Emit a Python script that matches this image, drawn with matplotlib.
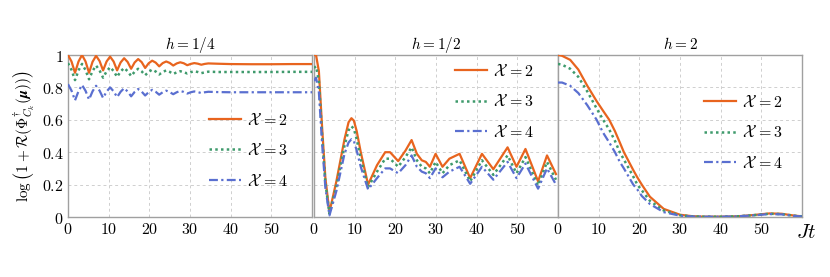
import matplotlib
matplotlib.use("Agg")
import matplotlib.pyplot as plt

plt.rcParams['mathtext.fontset'] = 'cm'
plt.rcParams['font.family'] = 'serif'
plt.rcParams['font.serif'] = ['DejaVu Serif']

# panel h = 1/4
t1 = [0, 0.8625, 1.725, 2.5875, 3.45, 4.3125, 5.175, 6.0375, 6.9, 7.7625, 8.625, 9.4875,
      10.35, 11.2125, 12.075, 12.9375, 13.8, 14.6625, 15.525, 16.3875, 17.25, 18.1125,
      18.975, 19.8375, 20.7, 21.5625, 22.425, 23.2875, 24.15, 25.0125, 25.875, 26.7375,
      27.6, 28.4625, 29.325, 30.1875, 31.05, 31.9125, 32.775, 33.6375, 34.5,
      37, 40, 45, 50, 55, 60]
orange1 = [1.0, 0.96, 0.89, 0.96, 1.0, 0.96, 0.89, 0.958, 0.995, 0.963, 0.905, 0.96,
           0.99, 0.96, 0.905, 0.954, 0.98, 0.957, 0.915, 0.954, 0.975, 0.956,
           0.92, 0.949, 0.965, 0.953, 0.93, 0.95, 0.96, 0.951, 0.935, 0.948,
           0.955, 0.949, 0.937, 0.945, 0.95, 0.9465, 0.94, 0.945, 0.948,
           0.946, 0.944, 0.943, 0.943, 0.944, 0.944]
green1 = [0.95, 0.908, 0.845, 0.905, 0.945, 0.907, 0.85, 0.901, 0.935, 0.905, 0.86, 0.899,
          0.925, 0.901, 0.865, 0.898, 0.92, 0.90, 0.87, 0.897, 0.915, 0.899,
          0.875, 0.896, 0.91, 0.898, 0.88, 0.895, 0.905, 0.896, 0.883, 0.893,
          0.90, 0.894, 0.886, 0.894, 0.90, 0.895, 0.888, 0.893, 0.897,
          0.895, 0.895, 0.895, 0.895, 0.896, 0.896]
blue1 = [0.82, 0.78, 0.72, 0.777, 0.815, 0.779, 0.725, 0.776, 0.81, 0.78, 0.735, 0.774,
         0.80, 0.776, 0.74, 0.773, 0.795, 0.775, 0.745, 0.772, 0.79, 0.774,
         0.75, 0.771, 0.785, 0.773, 0.755, 0.77, 0.78, 0.771, 0.758, 0.77,
         0.778, 0.772, 0.762, 0.77, 0.775, 0.771, 0.765, 0.77, 0.773,
         0.771, 0.77, 0.77, 0.77, 0.77, 0.77]

# panel h = 1/2
t2 = [0, 0.5, 1.2, 2.0, 2.8, 3.8, 5.5, 7.5, 8.5, 9.2, 9.8, 10.5, 11.5, 13.3, 15.5, 17.5,
      18.7, 20.7, 22.5, 24, 25.3, 26.5, 27.5, 28.5, 29.9, 31.6, 33.3, 35.8, 38.4, 41.3,
      44.1, 47.6, 49.8, 52, 55.1, 57.3, 59.5]
orange2 = [1.0, 1.0, 0.90, 0.55, 0.24, 0.03, 0.22, 0.48, 0.585, 0.61, 0.595, 0.53, 0.40,
           0.20, 0.32, 0.40, 0.40, 0.345, 0.41, 0.475, 0.39, 0.35, 0.34, 0.31, 0.39,
           0.31, 0.36, 0.39, 0.24, 0.39, 0.295, 0.43, 0.31, 0.42, 0.22, 0.38, 0.265]
green2 = [0.92, 0.93, 0.84, 0.50, 0.21, 0.02, 0.19, 0.44, 0.535, 0.56, 0.545, 0.48, 0.36,
          0.185, 0.28, 0.36, 0.36, 0.31, 0.37, 0.43, 0.35, 0.31, 0.30, 0.27, 0.34,
          0.27, 0.32, 0.35, 0.22, 0.35, 0.26, 0.38, 0.27, 0.37, 0.195, 0.34, 0.23]
blue2 = [0.84, 0.86, 0.77, 0.45, 0.18, 0.01, 0.16, 0.39, 0.46, 0.48, 0.47, 0.41, 0.31,
         0.17, 0.24, 0.30, 0.30, 0.27, 0.32, 0.38, 0.31, 0.28, 0.27, 0.24, 0.30,
         0.245, 0.28, 0.31, 0.205, 0.31, 0.23, 0.34, 0.24, 0.33, 0.175, 0.30, 0.20]

# panel h = 2
t3 = [0, 1, 3, 5, 7.2, 9.5, 11.1, 12.6, 14, 15.2, 16.2, 18.5, 19.5, 20.6, 22.6, 26, 30,
      33, 36, 40, 44, 48, 52, 55, 58, 60]
orange3 = [1.0, 0.995, 0.97, 0.91, 0.81, 0.715, 0.655, 0.60, 0.53, 0.46, 0.40, 0.29,
           0.245, 0.20, 0.125, 0.05, 0.014, 0.005, 0.002, 0.002, 0.004, 0.012, 0.022,
           0.02, 0.009, 0.004]
green3 = [0.945, 0.94, 0.915, 0.865, 0.775, 0.67, 0.60, 0.54, 0.47, 0.40, 0.355, 0.25,
          0.20, 0.165, 0.10, 0.04, 0.011, 0.004, 0.002, 0.002, 0.004, 0.011, 0.02,
          0.018, 0.008, 0.004]
blue3 = [0.83, 0.83, 0.81, 0.765, 0.69, 0.60, 0.52, 0.46, 0.40, 0.34, 0.30, 0.20, 0.17,
         0.13, 0.08, 0.03, 0.008, 0.003, 0.002, 0.002, 0.004, 0.01, 0.018, 0.016,
         0.007, 0.003]

titles = [r'$h=1/4$', r'$h=1/2$', r'$h=2$']
labels = [r'$\mathcal{X}\,=2$', r'$\mathcal{X}\,=3$', r'$\mathcal{X}\,=4$']
xticks = [0, 10, 20, 30, 40, 50]
yticks = [0, 0.2, 0.4, 0.6, 0.8, 1]
ytick_labels = [r'$0$', r'$0.2$', r'$0.4$', r'$0.6$', r'$0.8$', r'$1$']

panels = [(t1, orange1, green1, blue1), (t2, orange2, green2, blue2), (t3, orange3, green3, blue3)]
legend_pos = [(0.74, 0.41), (0.74, 0.71), (0.76, 0.52)]

c_orange = '#e8641e'
c_green = '#3f9a6c'
c_blue = '#5a6fd0'

fig = plt.figure(figsize=(8.3, 2.77), dpi=100)
lefts = [68 / 830, 314 / 830, 558 / 830]
width = 244 / 830
for i, (t, o, g, b) in enumerate(panels):
    ax = fig.add_axes([lefts[i], 60 / 277, width, 162 / 277])
    ax.plot(t, o, color=c_orange, lw=1.6, ls='-', label=labels[0], zorder=3)
    ax.plot(t, g, color=c_green, lw=1.8, ls=(0, (1, 1.3)), label=labels[1], zorder=3)
    ax.plot(t, b, color=c_blue, lw=1.6, ls=(0, (4, 1.5, 1, 1.5)), label=labels[2], zorder=3)
    ax.set_xlim(0, 60)
    ax.set_ylim(0, 1)
    ax.set_xticks(xticks)
    ax.set_xticklabels([rf'${v}$' for v in xticks], fontsize=11.5)
    ax.set_yticks(yticks)
    if i == 0:
        ax.set_yticklabels(ytick_labels, fontsize=11.5)
        ax.set_ylabel(r'$\log\left(1+\mathcal{R}(\Phi^{\dagger}_{C_k}(\boldsymbol{\mu}))\right)$',
                      fontsize=11, labelpad=4)
    else:
        ax.set_yticklabels([])
    ax.grid(True, ls=(0, (3, 3)), color='#cfcfcf', lw=0.7)
    ax.tick_params(length=0, pad=3)
    for s in ax.spines.values():
        s.set_color('#a0a0a0')
        s.set_linewidth(1.0)
    ax.set_title(titles[i], fontsize=11, pad=4)
    ax.legend(loc='center', bbox_to_anchor=legend_pos[i], frameon=False, fontsize=11.5,
              handlelength=2.0, labelspacing=0.85, handletextpad=0.4)

fig.text(806 / 830, 1 - 232 / 277, r'$Jt$', fontsize=15, ha='center', va='center')

fig.savefig('out.png', dpi=100)
